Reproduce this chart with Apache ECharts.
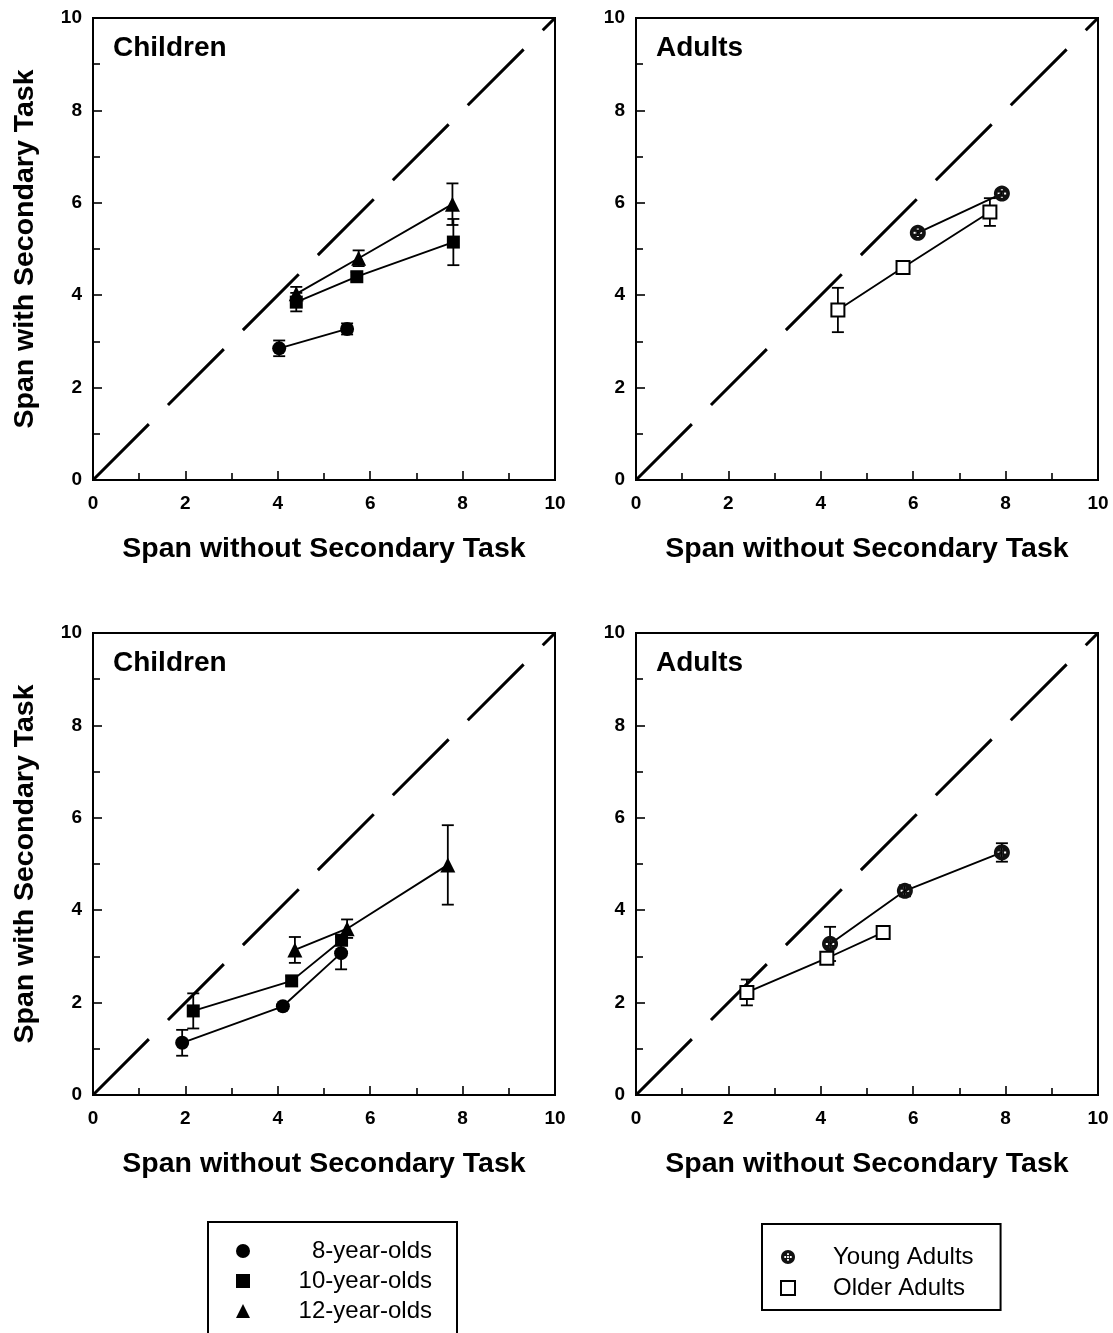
<!DOCTYPE html>
<html>
<head>
<meta charset="utf-8">
<script src="https://cdn.jsdelivr.net/npm/echarts@6/dist/echarts.min.js"></script>
<style>
html,body{margin:0;padding:0;background:#fff;}
#chart{width:1113px;height:1333px;}
</style>
</head>
<body>
<div id="chart"></div>
<script>
// ---------- DATA ----------
const axisTicks = [0, 2, 4, 6, 8, 10];
const diagX = [0, 10];
const diagY = [0, 10];

// Panel A: top-left (Children)
const a8X = [4.03, 5.5],  a8Y = [2.85, 3.27], a8E = [0.17, 0.12];
const a10X = [4.4, 5.71, 7.8], a10Y = [3.85, 4.4, 5.15], a10E = [0.2, 0.1, 0.5];
const a12X = [4.4, 5.75, 7.78], a12Y = [4.03, 4.8, 5.97], a12E = [0.15, 0.17, 0.45];

// Panel B: top-right (Adults)
const bYoungX = [6.1, 7.92], bYoungY = [5.35, 6.2], bYoungE = [0.05, 0.05];
const bOlderX = [4.37, 5.78, 7.66], bOlderY = [3.68, 4.6, 5.8], bOlderE = [0.48, 0.1, 0.3];

// Panel C: bottom-left (Children)
const c8X = [1.93, 4.11, 5.37], c8Y = [1.13, 1.92, 3.07], c8E = [0.28, 0.05, 0.35];
const c10X = [2.17, 4.3, 5.38], c10Y = [1.82, 2.47, 3.35], c10E = [0.38, 0.1, 0.1];
const c12X = [4.37, 5.5, 7.68], c12Y = [3.14, 3.6, 4.98], c12E = [0.28, 0.2, 0.86];

// Panel D: bottom-right (Adults)
const dYoungX = [4.2, 5.82, 7.92], dYoungY = [3.27, 4.42, 5.25], dYoungE = [0.37, 0.12, 0.2];
const dOlderX = [2.4, 4.13, 5.35], dOlderY = [2.22, 2.96, 3.52], dOlderE = [0.28, 0.08, 0.12];

const childNames = ['8-year-olds', '10-year-olds', '12-year-olds'];
const adultNames = ['Young Adults', 'Older Adults'];
const panelTitles = ['Children', 'Adults', 'Children', 'Adults'];
const xTitle = 'Span without Secondary Task';
const yTitle = 'Span with Secondary Task';

// ---------- STYLE ----------
const FONT = 'Liberation Sans, Arial, sans-serif';

// speckled disc symbol: polygonal disc (clockwise) with small square holes (counter-clockwise)
function speckledDisc() {
  const n = 32, r = 10;
  let p = '';
  for (let i = 0; i < n; i++) {
    const a = (i / n) * Math.PI * 2;
    p += (i === 0 ? 'M' : 'L') + (r * Math.cos(a)).toFixed(3) + ',' + (r * Math.sin(a)).toFixed(3);
  }
  p += 'Z';
  const holes = [[0, -4], [0, 4], [-4, 0], [4, 0], [0, 0]];
  const h = 1.3;
  holes.forEach(([cx, cy]) => {
    p += 'M' + (cx - h) + ',' + (cy - h) + 'L' + (cx - h) + ',' + (cy + h) +
         'L' + (cx + h) + ',' + (cy + h) + 'L' + (cx + h) + ',' + (cy - h) + 'Z';
  });
  return 'path://' + p;
}
const youngSymbol = speckledDisc();

const grids = [
  {left: 93, top: 18, width: 462, height: 462},
  {left: 636, top: 18, width: 462, height: 462},
  {left: 93, top: 633, width: 462, height: 462},
  {left: 636, top: 633, width: 462, height: 462}
].map(g => Object.assign(g, {show: true, borderColor: '#000', borderWidth: 2, backgroundColor: 'transparent'}));

function mkAxis(idx, isY) {
  const ax = {
    type: 'value', gridIndex: idx, min: axisTicks[0], max: axisTicks[axisTicks.length - 1],
    interval: axisTicks[1] - axisTicks[0],
    axisLine: {show: true, onZero: false, lineStyle: {color: '#000', width: 2}},
    axisTick: {show: true, inside: true, length: 9, lineStyle: {color: '#000', width: 1.6}},
    minorTick: {show: true, splitNumber: 2, length: 7, lineStyle: {color: '#000', width: 1.6}},
    splitLine: {show: false},
    axisLabel: {color: '#000', fontSize: 19, fontWeight: 'bold', fontFamily: FONT, margin: isY ? 11 : 14}
  };
  if (!isY) {
    ax.name = xTitle; ax.nameLocation = 'middle'; ax.nameGap = 55;
    ax.nameTextStyle = {color: '#000', fontSize: 28.5, fontWeight: 'bold', fontFamily: FONT};
  } else if (idx === 0 || idx === 2) {
    ax.name = yTitle; ax.nameLocation = 'middle'; ax.nameGap = 53;
    ax.nameTextStyle = {color: '#000', fontSize: 28.5, fontWeight: 'bold', fontFamily: FONT};
  }
  return ax;
}

function pts(xs, ys) { return xs.map((x, i) => [x, ys[i]]); }
function errPts(xs, ys, es) { return xs.map((x, i) => [x, ys[i], es[i]]); }

function errRender(params, api) {
  const x = api.value(0), y = api.value(1), e = api.value(2);
  const t = api.coord([x, y + e]);
  const b = api.coord([x, y - e]);
  const hw = 6;
  const st = {stroke: '#000', lineWidth: 1.8};
  return {type: 'group', children: [
    {type: 'line', shape: {x1: t[0], y1: t[1], x2: b[0], y2: b[1]}, style: st},
    {type: 'line', shape: {x1: t[0] - hw, y1: t[1], x2: t[0] + hw, y2: t[1]}, style: st},
    {type: 'line', shape: {x1: b[0] - hw, y1: b[1], x2: b[0] + hw, y2: b[1]}, style: st}
  ]};
}

const symStyles = {
  '8-year-olds': {symbol: 'circle', symbolSize: 14, itemStyle: {color: '#000'}},
  '10-year-olds': {symbol: 'rect', symbolSize: 13, itemStyle: {color: '#000'}},
  '12-year-olds': {symbol: 'triangle', symbolSize: 15, itemStyle: {color: '#000'}},
  'Young Adults': {symbol: youngSymbol, symbolSize: 16, itemStyle: {color: '#111'}},
  'Older Adults': {symbol: 'rect', symbolSize: 13, itemStyle: {color: '#fff', borderColor: '#000', borderWidth: 2}}
};

const series = [];
function addDiag(idx) {
  series.push({
    type: 'line', xAxisIndex: idx, yAxisIndex: idx, data: pts(diagX, diagY),
    symbol: 'none', silent: true, z: 1,
    lineStyle: {color: '#000', width: 3, type: [79, 27]}
  });
}
function addGroup(idx, name, xs, ys, es) {
  series.push({
    type: 'custom', xAxisIndex: idx, yAxisIndex: idx, z: 2, silent: true,
    renderItem: errRender, encode: {x: 0, y: 1}, data: errPts(xs, ys, es)
  });
  const s = symStyles[name];
  series.push({
    type: 'line', name: name, xAxisIndex: idx, yAxisIndex: idx, z: 3,
    data: pts(xs, ys), symbol: s.symbol, symbolSize: s.symbolSize,
    itemStyle: s.itemStyle, lineStyle: {color: '#000', width: 1.9}, animation: false
  });
}

[0, 1, 2, 3].forEach(addDiag);
addGroup(0, '8-year-olds', a8X, a8Y, a8E);
addGroup(0, '10-year-olds', a10X, a10Y, a10E);
addGroup(0, '12-year-olds', a12X, a12Y, a12E);
addGroup(1, 'Young Adults', bYoungX, bYoungY, bYoungE);
addGroup(1, 'Older Adults', bOlderX, bOlderY, bOlderE);
addGroup(2, '8-year-olds', c8X, c8Y, c8E);
addGroup(2, '10-year-olds', c10X, c10Y, c10E);
addGroup(2, '12-year-olds', c12X, c12Y, c12E);
addGroup(3, 'Young Adults', dYoungX, dYoungY, dYoungE);
addGroup(3, 'Older Adults', dOlderX, dOlderY, dOlderE);

const titlePos = [[108, 29], [651, 29], [108, 644], [651, 644]];
const titles = panelTitles.map((t, i) => ({
  text: t, left: titlePos[i][0], top: titlePos[i][1],
  textStyle: {color: '#000', fontSize: 28, fontWeight: 'bold', fontFamily: FONT}
}));

const option = {
  backgroundColor: '#fff',
  animation: false,
  title: titles,
  grid: grids,
  xAxis: [0, 1, 2, 3].map(i => mkAxis(i, false)),
  yAxis: [0, 1, 2, 3].map(i => mkAxis(i, true)),
  legend: [
    {
      orient: 'vertical', left: 208, top: 1222, height: 300,
      data: childNames.map(n => ({name: n, icon: symStyles[n].symbol, itemStyle: symStyles[n].itemStyle})),
      itemWidth: 14, itemHeight: 14, itemGap: 6,
      padding: [17, 25, 30, 28],
      borderColor: '#000', borderWidth: 2,
      selectedMode: false,
      formatter: '{a|{name}}',
      textStyle: {color: '#000', fontFamily: FONT, fontSize: 24,
        rich: {a: {width: 177, align: 'right', fontSize: 24, fontFamily: FONT, color: '#000', lineHeight: 22}}}
    },
    {
      orient: 'vertical', left: 762, top: 1224, height: 200,
      data: adultNames.map(n => ({name: n, icon: symStyles[n].symbol, itemStyle: symStyles[n].itemStyle})),
      itemWidth: 14, itemHeight: 14, itemGap: 7,
      padding: [21, 27, 10, 18],
      borderColor: '#000', borderWidth: 2,
      selectedMode: false,
      formatter: '{a|{name}}',
      textStyle: {color: '#000', fontFamily: FONT, fontSize: 24,
        rich: {a: {padding: [0, 0, 0, 33], fontSize: 24, fontFamily: FONT, color: '#000', lineHeight: 22}}}
    }
  ],
  series: series
};

const chart = echarts.init(document.getElementById('chart'), null, {renderer: 'canvas'});
chart.setOption(option);
</script>
</body>
</html>
